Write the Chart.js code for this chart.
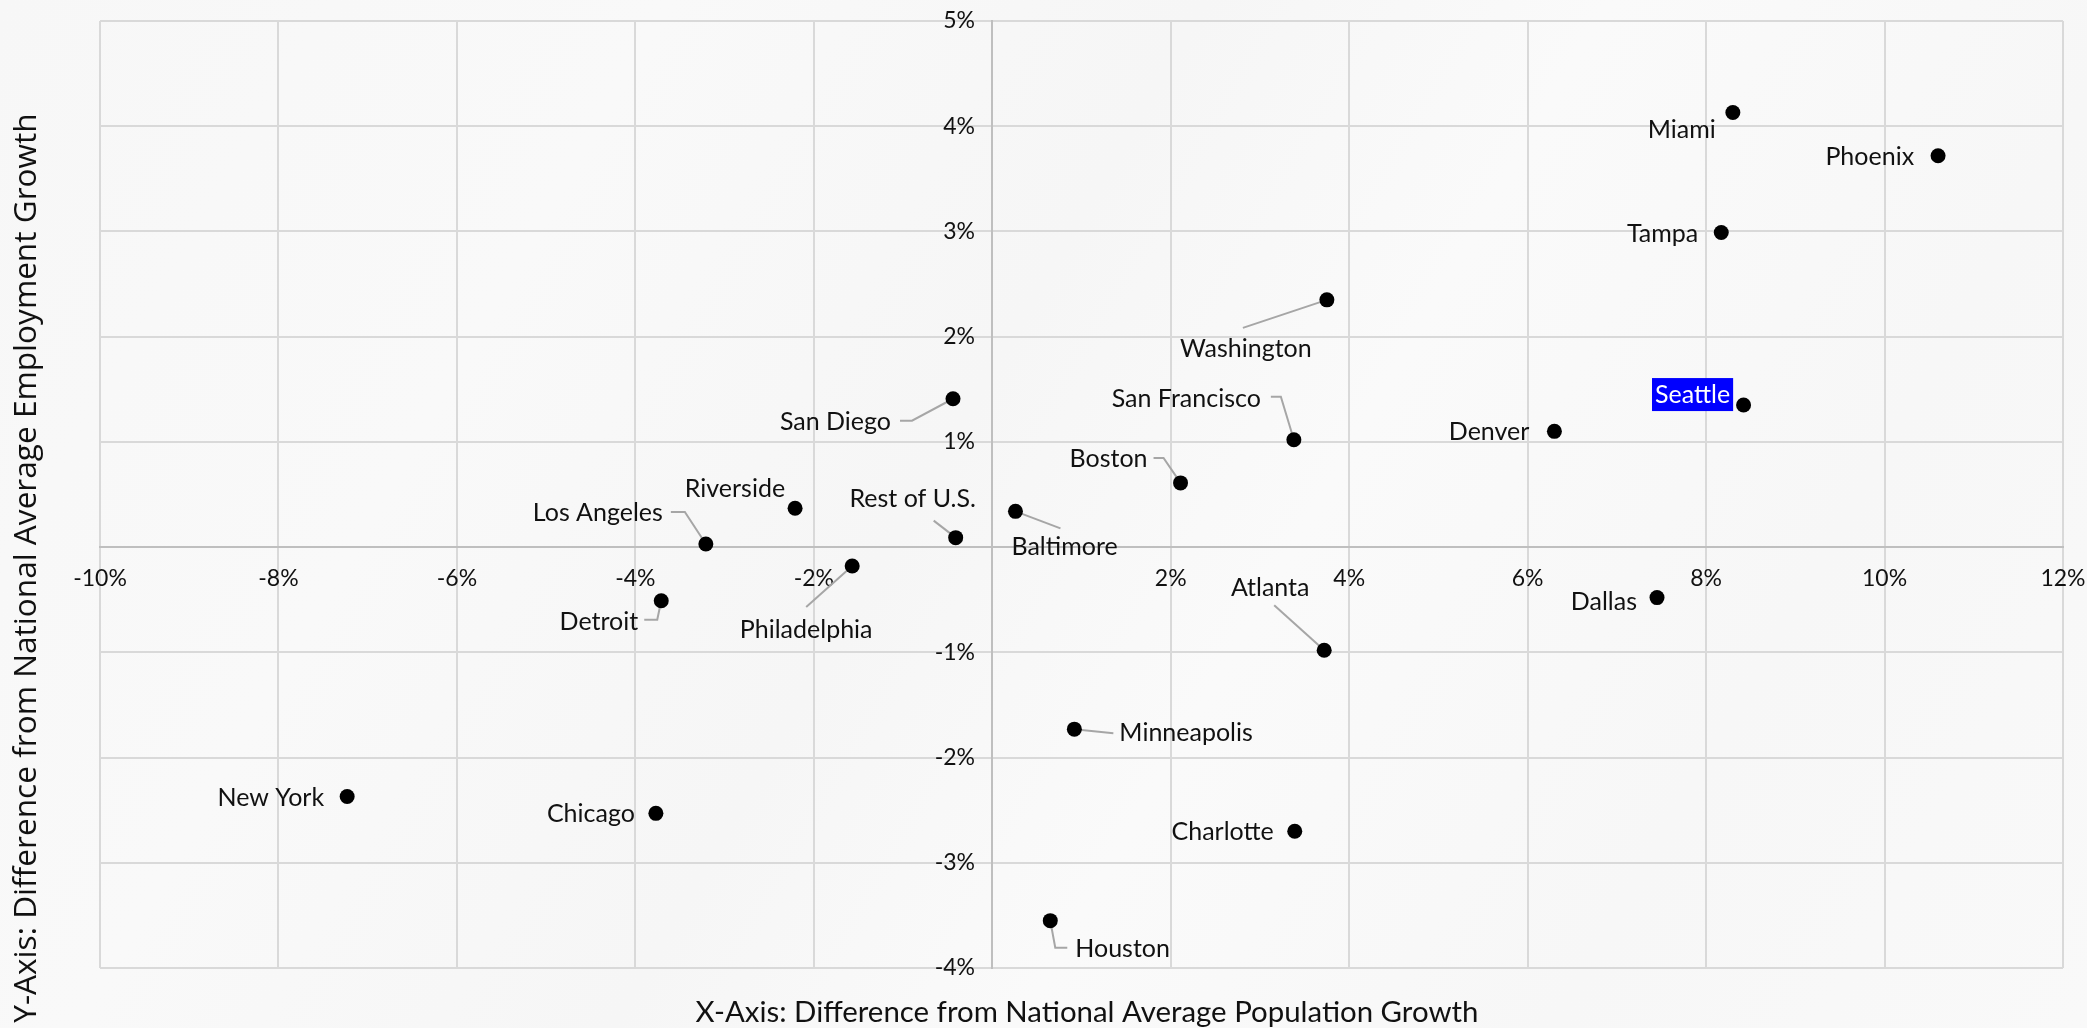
<!DOCTYPE html>
<html><head><meta charset="utf-8">
<script src="https://cdn.jsdelivr.net/npm/chart.js@4.4.1/dist/chart.umd.min.js"></script>
<style>
html,body{margin:0;padding:0;background:#f8f8f8;overflow:hidden}
#wrap{width:2087px;height:1028px;position:relative;
 background:linear-gradient(120deg,#f7f7f7 0%,#f9f9f9 25%,#f6f6f6 45%,#fafafa 60%,#f7f7f7 80%,#f9f9f9 100%)}
</style></head>
<body><div id="wrap"><canvas id="c" width="2087" height="1028"></canvas></div>
<script>
// ---- data ----
const cities = ["Miami","Phoenix","Tampa","Washington","Seattle","Denver","San Francisco","San Diego","Boston","Riverside","Baltimore","Rest of U.S.","Los Angeles","Philadelphia","Detroit","Dallas","Atlanta","Minneapolis","New York","Chicago","Charlotte","Houston"];
const popGrowthDiff = [8.30,10.60,8.17,3.75,8.42,6.30,3.38,-0.44,2.11,-2.21,0.26,-0.41,-3.21,-1.57,-3.71,7.45,3.72,0.92,-7.23,-3.77,3.39,0.65];
const empGrowthDiff = [4.13,3.72,2.99,2.35,1.35,1.10,1.02,1.41,0.61,0.37,0.34,0.09,0.03,-0.18,-0.51,-0.48,-0.98,-1.73,-2.37,-2.53,-2.70,-3.55];
const highlighted = ["Seattle"];
const xRange = [-10, 12], xStep = 2;
const yRange = [-4, 5], yStep = 1;
const xTitle = "X-Axis: Difference from National Average Population Growth";
const yTitle = "Y-Axis: Difference from National Average Employment Growth";

// ---- label placement (pixels relative to each point) ----
const labelLayout = {
  "Miami":        {dx:-17, dy:17, align:"right"},
  "Phoenix":      {dx:-24, dy:1,  align:"right"},
  "Tampa":        {dx:-23, dy:1,  align:"right"},
  "Washington":   {dx:-81, dy:49, align:"center", leader:[[0,0],[-84,28]]},
  "Seattle":      {dx:-51, dy:-10, align:"center"},
  "Denver":       {dx:-25, dy:1,  align:"right"},
  "San Francisco":{dx:-33, dy:-41, align:"right", leader:[[-23,-43],[-13,-43],[0,0]]},
  "San Diego":    {dx:-62, dy:23, align:"right", leader:[[-53,22],[-41,22],[0,0]]},
  "Boston":       {dx:-33, dy:-24, align:"right", leader:[[-27,-25],[-17,-25],[0,0]]},
  "Riverside":    {dx:-10, dy:-19, align:"right"},
  "Baltimore":    {dx:-4,  dy:36, align:"left", leader:[[0,0],[45,17]]},
  "Rest of U.S.": {dx:-43, dy:-39, align:"center", leader:[[-22,-17],[0,0]]},
  "Los Angeles":  {dx:-43, dy:-31, align:"right", leader:[[-35,-32],[-21,-32],[0,0]]},
  "Philadelphia": {dx:-46, dy:64, align:"center", leader:[[-46,41],[0,0]]},
  "Detroit":      {dx:-23, dy:21, align:"right", leader:[[-17,19],[-4,19],[0,0]]},
  "Dallas":       {dx:-20, dy:4,  align:"right"},
  "Atlanta":      {dx:-54, dy:-62, align:"center", leader:[[-50,-45],[0,0]]},
  "Minneapolis":  {dx:45,  dy:4,  align:"left", leader:[[0,0],[39,4]]},
  "New York":     {dx:-23, dy:1,  align:"right"},
  "Chicago":      {dx:-21, dy:1,  align:"right"},
  "Charlotte":    {dx:-21, dy:1,  align:"right"},
  "Houston":      {dx:25,  dy:28, align:"left", leader:[[0,0],[5,27],[17,27]]}
};
const LABEL_FONT = '25px Lato';
const TEXT_COLOR = '#111111';

const points = cities.map((c,i)=>({x:popGrowthDiff[i], y:empGrowthDiff[i]}));

const leaderPlugin = {
  id:'leaders',
  beforeDatasetsDraw(chart){
    const ctx = chart.ctx, meta = chart.getDatasetMeta(0);
    ctx.save();
    ctx.strokeStyle = '#a6a6a6'; ctx.lineWidth = 2;
    meta.data.forEach((pt,i)=>{
      const L = labelLayout[cities[i]];
      if(!L || !L.leader) return;
      ctx.beginPath();
      L.leader.forEach((p,j)=>{ const X=pt.x+p[0], Y=pt.y+p[1]; j?ctx.lineTo(X,Y):ctx.moveTo(X,Y); });
      ctx.stroke();
    });
    ctx.restore();
  },
  afterDatasetsDraw(chart){
    const ctx = chart.ctx, meta = chart.getDatasetMeta(0);
    ctx.save();
    ctx.font = LABEL_FONT; ctx.textBaseline = 'middle';
    meta.data.forEach((pt,i)=>{
      const name = cities[i], L = labelLayout[name];
      const tx = pt.x + L.dx, ty = pt.y + L.dy;
      ctx.textAlign = L.align;
      if (highlighted.includes(name)) {
        const w = ctx.measureText(name).width;
        let left = L.align==='center' ? tx - w/2 : (L.align==='right' ? tx - w : tx);
        ctx.fillStyle = '#0000ff';
        ctx.fillRect(left-3, ty-17, w+6, 33);
        ctx.fillStyle = '#ffffff';
      } else ctx.fillStyle = TEXT_COLOR;
      ctx.fillText(name, tx, ty);
    });
    ctx.restore();
  }
};

function fitFont(ctx, text, family, targetW){
  ctx.font = '100px ' + family;
  const w = ctx.measureText(text).width;
  return Math.round(100*targetW/w*10)/10;
}
const titlePlugin = {
  id:'titles',
  afterDraw(chart){
    const ctx = chart.ctx;
    ctx.save();
    ctx.fillStyle = '#111'; ctx.textAlign='center'; ctx.textBaseline='middle';
    const fx = fitFont(ctx, xTitle, 'Lato', 783);
    ctx.font = fx + 'px Lato';
    ctx.fillText(xTitle, 1087, 1013);
    const fy = fitFont(ctx, yTitle, '"Open Sans"', 910);
    ctx.font = fy + 'px "Open Sans"';
    ctx.translate(27, 568); ctx.rotate(-Math.PI/2);
    ctx.fillText(yTitle, 0, 0);
    ctx.restore();
  }
};

const pct = v => (Math.abs(v) < 1e-9 ? '' : Math.round(v) + '%');

new Chart(document.getElementById('c'), {
  type:'scatter',
  data:{ datasets:[{ data: points, backgroundColor:'#000', borderWidth:0, pointRadius:7.5, pointHoverRadius:7.5 }]},
  options:{
    responsive:false, animation:false, devicePixelRatio:1,
    events:[],
    layout:{ padding:{ left:100, right:24, top:21, bottom:60 } },
    plugins:{ legend:{display:false}, tooltip:{enabled:false} },
    scales:{
      x:{ type:'linear', position:{y:0}, min:xRange[0], max:xRange[1],
          grid:{ color:'#d9d9d9', lineWidth:2, drawTicks:false },
          border:{ color:'#bfbfbf', width:2 },
          ticks:{ stepSize:xStep, padding:0, color:TEXT_COLOR, font:{family:'Lato', size:23, lineHeight:2.7}, callback:pct, maxRotation:0, autoSkip:false } },
      y:{ type:'linear', position:{x:0}, min:yRange[0], max:yRange[1],
          grid:{ color:'#d9d9d9', lineWidth:2, drawTicks:false },
          border:{ color:'#bfbfbf', width:2 },
          ticks:{ stepSize:yStep, padding:0, color:TEXT_COLOR, font:{family:'Lato', size:23}, callback: v => { const s = pct(v); return s ? s + '\u2003' : ''; }, autoSkip:false } }
    }
  },
  plugins:[leaderPlugin, titlePlugin]
});
</script>
</body></html>
